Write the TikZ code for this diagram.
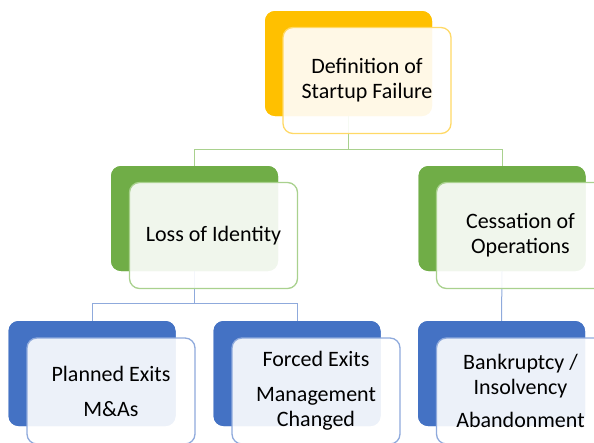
\documentclass[tikz,border=0pt]{standalone}
\usepackage{fontspec}
\setmainfont{Carlito}
\definecolor{amber}{HTML}{FFC000}
\definecolor{amberline}{HTML}{FFD966}
\definecolor{leaf}{HTML}{70AD47}
\definecolor{leafline}{HTML}{A9D18E}
\definecolor{sea}{HTML}{4472C4}
\definecolor{sealine}{HTML}{8FAADC}
\tikzset{
  backbox/.style={rounded corners=10pt, minimum width=167pt, minimum height=105pt, inner sep=0pt, draw=none},
  frontbox/.style={rounded corners=10pt, minimum width=168pt, minimum height=106pt, inner sep=0pt,
    line width=1.3pt, fill=white, fill opacity=0.9, text opacity=1, align=center,
    font=\fontsize{22}{25}\selectfont, text=black},
  tierA/.style={backbox, fill=amber},
  tierB/.style={backbox, fill=leaf},
  tierC/.style={backbox, fill=sea},
  linkB/.style={draw=leafline, line width=1pt},
  linkC/.style={draw=sealine, line width=1pt},
}
\begin{document}
\begin{tikzpicture}[x=1pt, y=-1pt]
\useasboundingbox (0,0) rectangle (594,442);
\clip (0,0) rectangle (594,442);
% back plates
\node[tierA] (top) at (348.5,63.5) {};
\node[tierB] (loss) at (194.5,218.5) {};
\node[tierB] (cess) at (502,218.5) {};
\node[tierC] (plan) at (92,373.5) {};
\node[tierC] (force) at (297,373.5) {};
\node[tierC] (bank) at (501.5,373.5) {};
% connectors
\draw[linkB] (top.south) -- ++(0,-33pt) -| (loss.north);
\draw[linkB] (top.south) -- ++(0,-33pt) -| (cess.north);
\draw[linkC] (loss.south) -- ++(0,-32pt) -| (plan.north);
\draw[linkC] (loss.south) -- ++(0,-32pt) -| (force.north);
\draw[linkC] (cess.south) -- (bank.north);
% redraw plates over the connector ends
\node[tierA] at (top) {};
\node[tierB] at (loss) {};
\node[tierB] at (cess) {};
\node[tierC] at (plan) {};
\node[tierC] at (force) {};
\node[tierC] at (bank) {};
% translucent front cards with labels
\node[frontbox, draw=amberline] (topf) at (367,80.5) {Definition of\\Startup Failure};
\node[frontbox, draw=leafline] (lossf) at (213.5,235.5) {Loss of Identity};
\node[frontbox, draw=leafline] (cessf) at (520.5,235.5) {Cessation of\\Operations};
\node[frontbox, draw=sealine] (planf) at (111,391) {Planned Exits\\[10pt]M\&As};
\node[frontbox, draw=sealine] (forcef) at (316,391) {Forced Exits\\[10pt]Management\\Changed};
\node[frontbox, draw=sealine] (bankf) at (520.5,391) {Bankruptcy /\\Insolvency\\[8pt]Abandonment};
\end{tikzpicture}
\end{document}
